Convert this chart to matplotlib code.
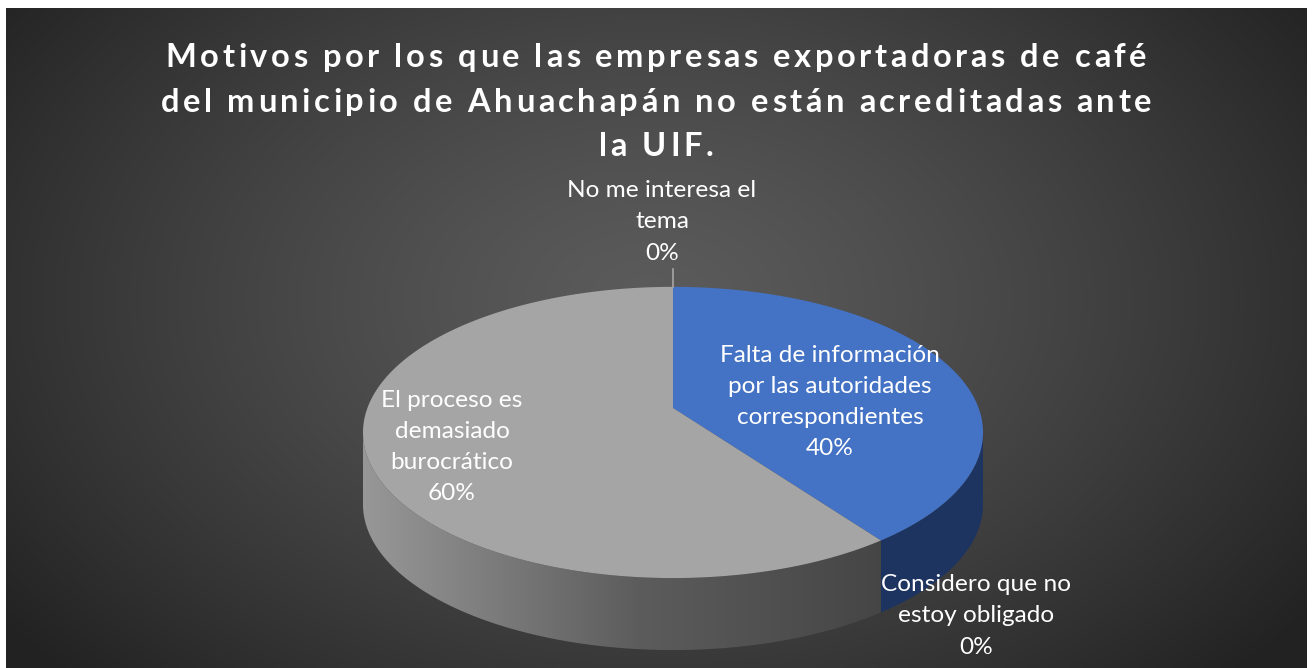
import numpy as np
import matplotlib.pyplot as plt
from matplotlib.patches import Polygon

# Data
categories = ['No me interesa el\ntema',
              'Falta de información\npor las autoridades\ncorrespondientes',
              'Considero que no\nestoy obligado',
              'El proceso es\ndemasiado\nburocrático']
values = [0, 40, 0, 60]
top_colors = ['#a5a5a5', '#4472c4', '#a5a5a5', '#a5a5a5']
title_lines = ['Motivos por los que las empresas exportadoras de café',
               'del municipio de Ahuachapán no están acreditadas ante',
               'la UIF.']

# label block centres (pixels)
label_pos = [(662, 222), (830, 402), (976, 616), (452, 447)]

W, H = 1312, 668
fig = plt.figure(figsize=(W / 100, H / 100), dpi=100)
fig.patch.set_facecolor('white')
ax = fig.add_axes([0, 0, 1, 1])

# radial background
yy, xx = np.mgrid[8:H, 6:1307]
r = np.sqrt(((xx - 650) / 780.0) ** 2 + ((yy - 300) / 520.0) ** 2)
shade = np.clip(0x5b - (0x5b - 0x25) * r ** 1.3, 0x22, 0x5b) / 255.0
bg = np.dstack([shade, shade, shade])
ax.imshow(bg, extent=(6, 1307, H, 8), origin='upper', interpolation='bilinear', zorder=0)

# 3D pie projection
CX, CY = 673, 408
A, B, P = 305.6, 141.5, 0.168
DEPTH = 72


def proj(phi_deg):
    phi = np.radians(phi_deg)
    u, v = np.sin(phi), -np.cos(phi)
    s = 1.0 / (1.0 - P * v)
    return CX + A * u * s, CY + B * v * s


total = float(sum(values))
bounds = np.concatenate([[0], np.cumsum(values)]) / total * 360
phi_l = np.degrees(np.arccos(-P))
phi_r = 360 - phi_l

# sides
for i in range(len(values)):
    lo, hi = max(bounds[i], phi_l), min(bounds[i + 1], phi_r)
    if hi <= lo:
        continue
    t = np.linspace(lo, hi, 120)
    x, y = proj(t)
    pts = np.vstack([np.column_stack([x, y]),
                     np.column_stack([x[::-1], y[::-1] + DEPTH])])
    if top_colors[i] == '#4472c4':
        ax.add_patch(Polygon(pts, closed=True, facecolor='#1d3461', edgecolor='none', zorder=2))
    else:
        poly = Polygon(pts, closed=True, facecolor='none', edgecolor='none', zorder=2)
        ax.add_patch(poly)
        gx = np.linspace(360, 900, 300)
        g = np.interp(gx, [360, 450, 640, 900], [0x98, 0x85, 0x5c, 0x44]) / 255.0
        grad = np.dstack([np.tile(g, (10, 1))] * 3)
        im = ax.imshow(grad, extent=(360, 900, 668, 420), origin='upper', zorder=2,
                       interpolation='bilinear')
        im.set_clip_path(poly)

# tops
for i in range(len(values)):
    if values[i] == 0:
        continue
    t = np.linspace(bounds[i], bounds[i + 1], 200)
    x, y = proj(t)
    pts = np.vstack([[CX, CY], np.column_stack([x, y])])
    ax.add_patch(Polygon(pts, closed=True, facecolor=top_colors[i], edgecolor='none', zorder=3))

# leader line for the top label
tx, ty = proj(0)
ax.plot([tx, tx], [ty - 18, ty], color='#a6a6a6', lw=1.2, zorder=4)

# data labels
for i, (cat, (lx, ly)) in enumerate(zip(categories, label_pos)):
    pct = '{:.0f}%'.format(values[i] / total * 100)
    ax.text(lx, ly, cat + '\n' + pct, ha='center', va='center', color='white',
            fontsize=17.6, family='Lato', linespacing=1.6, zorder=5)

# title with letter spacing
renderer = fig.canvas.get_renderer()
tkw = dict(fontsize=23.5, family='Lato', fontweight='bold', color='white')


def text_w(s):
    t = ax.text(0, 0, s, **tkw)
    w = t.get_window_extent(renderer).width
    t.remove()
    return w


spacing = 3.6
ref = text_w('x')
for k, line in enumerate(title_lines):
    adv = [text_w(line[:i] + 'x') - ref if i else 0 for i in range(len(line) + 1)]
    full = adv[-1] + spacing * (len(line) - 1)
    x0 = 656 - full / 2
    for i, ch in enumerate(line):
        if ch != ' ':
            ax.text(x0 + adv[i] + spacing * i, 67 + k * 44.5, ch, ha='left',
                    va='baseline', zorder=5, **tkw)

ax.set_xlim(0, W)
ax.set_ylim(H, 0)
ax.set_aspect('auto')
ax.axis('off')

plt.savefig('out.png', dpi=100)
